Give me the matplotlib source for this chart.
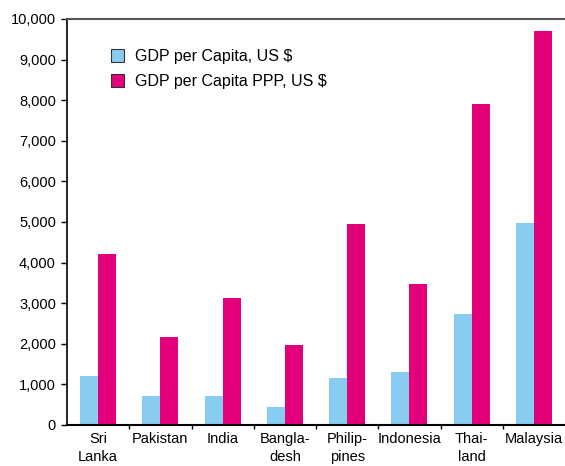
import matplotlib
matplotlib.use("Agg")
import matplotlib.pyplot as plt
import numpy as np
from matplotlib.ticker import FuncFormatter, FixedLocator

plt.rcParams['font.family'] = ['Liberation Sans', 'DejaVu Sans']

categories = ["Sri\nLanka", "Pakistan", "India", "Bangla-\ndesh", "Philip-\npines", "Indonesia", "Thai-\nland", "Malaysia"]
gdp_pc = [1200, 710, 710, 440, 1160, 1300, 2730, 4970]
gdp_ppp = [4200, 2170, 3130, 1970, 4950, 3470, 7900, 9700]
series_names = ["GDP per Capita, US $", "GDP per Capita PPP, US $"]
yticks = [0, 1000, 2000, 3000, 4000, 5000, 6000, 7000, 8000, 9000, 10000]

blue = "#88CCF1"
pink = "#E3007B"

fig = plt.figure(figsize=(5.65, 4.66), dpi=100)
ax = fig.add_axes([67/565, 41/466, 498/565, 406/466])

x = np.arange(len(categories))
w = 0.29
ax.bar(x - w/2, gdp_pc, width=w, color=blue, label=series_names[0])
ax.bar(x + w/2, gdp_ppp, width=w, color=pink, label=series_names[1])

ax.set_xlim(-0.5, len(categories) - 0.5)
ax.set_ylim(0, 10000)
ax.set_yticks(yticks)
ax.yaxis.set_major_formatter(FuncFormatter(lambda v, p: f"{int(v):,}"))
ax.tick_params(axis='y', direction='out', length=4, width=1, labelsize=10.5, pad=4)

ax.set_xticks(x)
ax.set_xticklabels(categories, fontsize=10.5, linespacing=1.35)
ax.tick_params(axis='x', which='major', length=0, pad=5)
ax.xaxis.set_minor_locator(FixedLocator(np.arange(0.5, len(categories) - 0.5, 1)))
ax.tick_params(axis='x', which='minor', direction='out', length=3, width=1)

ax.spines['right'].set_visible(False)
ax.spines['top'].set_color('#555555')
ax.spines['top'].set_linewidth(1.5)
ax.spines['left'].set_linewidth(1.2)
ax.spines['bottom'].set_linewidth(1.5)

leg = ax.legend(loc='upper left', bbox_to_anchor=(0.059, 0.962), frameon=False,
                fontsize=11.5, handlelength=0.85, handleheight=0.85,
                handletextpad=0.65, labelspacing=0.62)
for h in leg.legend_handles:
    h.set_edgecolor('#333333')
    h.set_linewidth(0.8)

fig.savefig("out.png", dpi=100)
